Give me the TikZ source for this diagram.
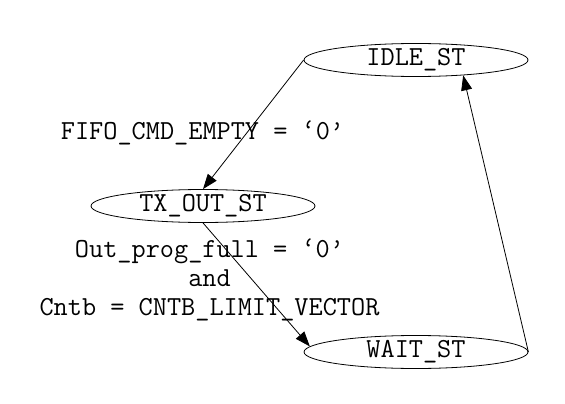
\documentclass[tikz,border=0pt]{standalone}
\usepackage{fontspec}
\usetikzlibrary{shapes.geometric,arrows.meta}
\tikzset{
  state/.style={draw, ellipse, line width=0.8pt, minimum width=224pt, minimum height=33pt, inner sep=0pt,
    font=\ttfamily\fontsize{27.5}{29}\selectfont},
  lbl/.style={inner sep=0pt, align=center, font=\ttfamily\fontsize{27.5}{29}\selectfont},
  edge/.style={line width=0.8pt, -{Triangle[length=15pt,width=11pt]}}
}
\begin{document}
\begin{tikzpicture}[x=1pt,y=-1pt]
\useasboundingbox (0,0) rectangle (565,404);
\node[state] (idle) at (416,60) {IDLE\_ST};
\node[state] (tx) at (203,206) {TX\_OUT\_ST};
\node[state] (wait) at (416,352) {WAIT\_ST};
\node[lbl] (l1) at (202.5,133) {FIFO\_CMD\_EMPTY = ‘0’};
\node[lbl] (l2) at (209.5,280) {Out\_prog\_full = ‘0’\\and\\Cntb = CNTB\_LIMIT\_VECTOR};
\draw[edge] (idle.west) -- (tx.north);
\draw[edge] (tx.south) -- (wait.177);
\draw[edge] (wait.east) -- (idle.-18);
\end{tikzpicture}
\end{document}
